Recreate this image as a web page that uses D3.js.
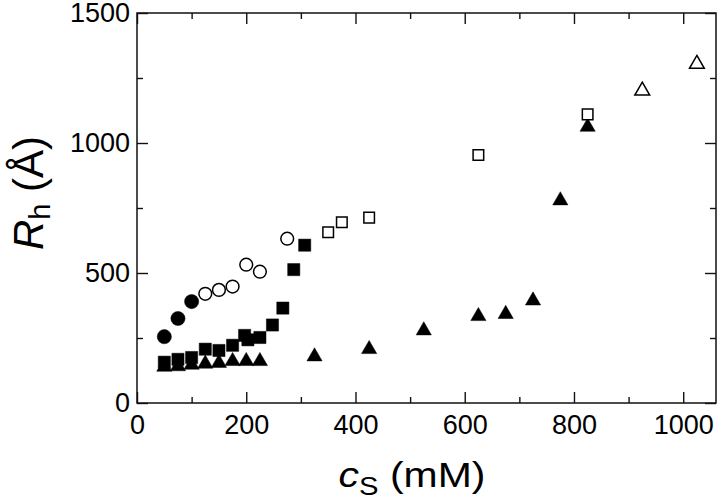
<!DOCTYPE html>
<html>
  <head>
    <meta charset="utf-8">
    <title>Rh vs cs</title>
    <script src="https://d3js.org/d3.v7.min.js"></script>
    <style>
      body { margin: 0; background: #fff; }
      text { font-family: "Liberation Sans", Arial, Helvetica, sans-serif; fill: #000; }
    </style>
  </head>
  <body>
    <script>
      // ==================
      // data (cs in mM, Rh in Angstrom)
      // ==================
      const filledCircles = [[50, 255], [75, 325], [100, 390]];
      const openCircles = [[125, 420], [150, 435], [175, 448], [200, 532], [225, 505], [275, 632]];
      const filledSquares = [[50, 157], [75, 168], [100, 175], [125, 207], [150, 202], [175, 222],
        [197, 260], [203, 243], [225, 252], [248, 300], [267, 365], [287, 513], [307, 607]];
      const openSquares = [[350, 657], [375, 695], [425, 713], [625, 954], [825, 1110]];
      const filledTriangles = [[50, 135], [75, 137], [100, 143], [125, 147], [150, 150], [175, 157],
        [200, 157], [225, 157], [325, 175], [425, 203], [525, 275], [625, 330], [675, 338],
        [725, 390], [775, 775], [825, 1058]];
      const openTriangles = [[925, 1197], [1025, 1300]];

      const xMajor = [0, 200, 400, 600, 800, 1000];
      const xMinor = [100, 300, 500, 700, 900];
      const yMajor = [0, 500, 1000, 1500];
      const yMinor = [250, 750, 1250];

      const width = 720;
      const height = 500;
      const margin = {left: 137, top: 13, right: 4, bottom: 97};
      const w = width - margin.left - margin.right;
      const h = height - margin.top - margin.bottom;

      const svg = d3.select("body")
        .append("svg")
          .attr("width", width)
          .attr("height", height);

      const g = svg.append("g")
        .attr("transform", "translate(" + margin.left + "," + margin.top + ")");

      const x = d3.scaleLinear().domain([0, 1060]).range([0, w]);
      const y = d3.scaleLinear().domain([0, 1500]).range([h, 0]);

      const major = 11, minor = 6;

      // inward ticks on all four sides
      function styleAxis(sel) {
        sel.select(".domain").remove();
        sel.selectAll("line").attr("stroke", "#111").attr("stroke-width", 1.4);
        sel.selectAll("text").style("font-size", "27px").attr("fill", "#000");
      }

      g.append("g").attr("transform", "translate(0," + h + ")")
        .call(d3.axisBottom(x).tickValues(xMajor).tickSize(-major).tickPadding(12).tickFormat(d3.format("d")))
        .call(styleAxis);
      g.append("g").attr("transform", "translate(0," + h + ")")
        .call(d3.axisBottom(x).tickValues(xMinor).tickSize(-minor).tickFormat(""))
        .call(styleAxis);
      g.append("g")
        .call(d3.axisTop(x).tickValues(xMajor).tickSize(-major).tickFormat(""))
        .call(styleAxis);
      g.append("g")
        .call(d3.axisTop(x).tickValues(xMinor).tickSize(-minor).tickFormat(""))
        .call(styleAxis);

      g.append("g")
        .call(d3.axisLeft(y).tickValues(yMajor).tickSize(-major).tickPadding(7).tickFormat(d3.format("d")))
        .call(styleAxis);
      g.append("g")
        .call(d3.axisLeft(y).tickValues(yMinor).tickSize(-minor).tickFormat(""))
        .call(styleAxis);
      g.append("g").attr("transform", "translate(" + w + ",0)")
        .call(d3.axisRight(y).tickValues(yMajor).tickSize(-major).tickFormat(""))
        .call(styleAxis);
      g.append("g").attr("transform", "translate(" + w + ",0)")
        .call(d3.axisRight(y).tickValues(yMinor).tickSize(-minor).tickFormat(""))
        .call(styleAxis);

      // frame
      g.append("rect")
        .attr("width", w)
        .attr("height", h)
        .attr("fill", "none")
        .attr("stroke", "#111")
        .attr("stroke-width", 1.5);

      // markers
      function plot(data, type, size, filled) {
        g.selectAll(null)
          .data(data)
          .enter()
          .append("path")
            .attr("d", d3.symbol().type(type).size(size))
            .attr("transform", function(d) {
              const dy = type === d3.symbolTriangle ? -1 : 0;
              return "translate(" + x(d[0]) + "," + (y(d[1]) + dy) + ")";
            })
            .attr("fill", filled ? "#000" : "#fff")
            .attr("stroke", "#000")
            .attr("stroke-width", filled ? 0.5 : 1.5);
      }

      plot(filledTriangles, d3.symbolTriangle, 100, true);
      plot(filledSquares, d3.symbolSquare, 148, true);
      plot(filledCircles, d3.symbolCircle, 158, true);
      plot(openCircles, d3.symbolCircle, 128, false);
      plot(openSquares, d3.symbolSquare, 112, false);
      plot(openTriangles, d3.symbolTriangle, 95, false);

      // axis titles
      const xt = svg.append("text")
        .attr("transform", "translate(412,487) scale(1.17,1)")
        .attr("text-anchor", "middle")
        .style("font-size", "35px");
      xt.append("tspan").style("font-style", "italic").text("c");
      xt.append("tspan").attr("dy", 8).style("font-size", "25px").text("S");
      xt.append("tspan").attr("dy", -8).text(" (mM)");

      const yt = svg.append("text")
        .attr("transform", "translate(43,193) rotate(-90)")
        .attr("text-anchor", "middle")
        .style("font-size", "42px");
      yt.append("tspan").style("font-style", "italic").text("R");
      yt.append("tspan").attr("dy", 7).style("font-size", "29px").text("h");
      yt.append("tspan").attr("dy", -7).text(" (Å)");
    </script>
  </body>
</html>
